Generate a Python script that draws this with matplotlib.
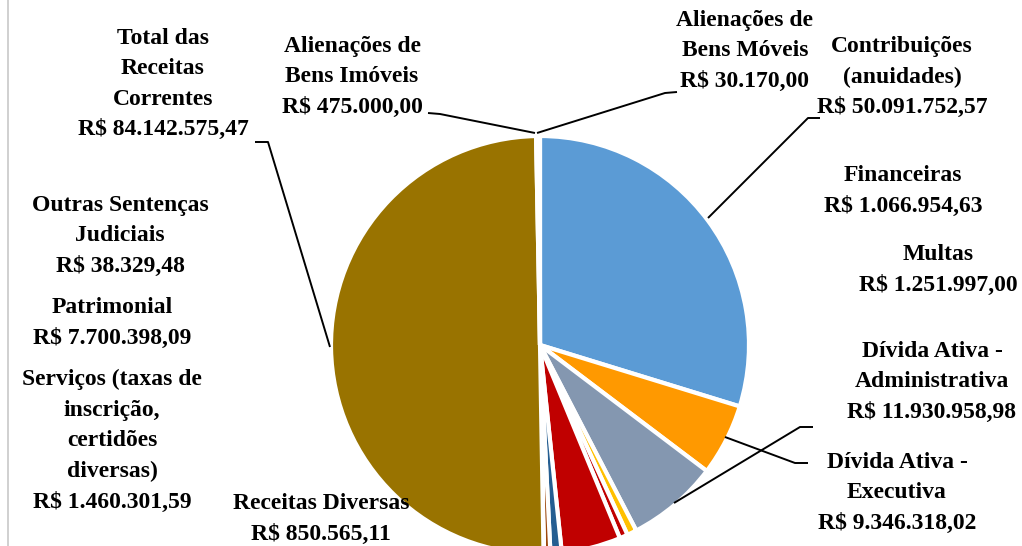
import matplotlib
matplotlib.use("Agg")
import matplotlib.pyplot as plt

# slice data, clockwise from the top
categories = [
    "Contribuições\n(anuidades)",
    "Dívida Ativa -\nExecutiva",
    "Dívida Ativa -\nAdministrativa",
    "Multas",
    "Financeiras",
    "Patrimonial",
    "Serviços (taxas de\ninscrição,\ncertidões\ndiversas)",
    "Receitas Diversas",
    "Outras Sentenças\nJudiciais",
    "Total das\nReceitas\nCorrentes",
    "Alienações de\nBens Imóveis",
    "Alienações de\nBens Móveis",
]
values = [50091752.57, 9346318.02, 11930958.98, 1251997.00, 1066954.63,
          7700398.09, 1460301.59, 850565.11, 38329.48, 84142575.47,
          475000.00, 30170.00]
value_labels = ["R$ 50.091.752,57", "R$ 9.346.318,02", "R$ 11.930.958,98",
                "R$ 1.251.997,00", "R$ 1.066.954,63", "R$ 7.700.398,09",
                "R$ 1.460.301,59", "R$ 850.565,11", "R$ 38.329,48",
                "R$ 84.142.575,47", "R$ 475.000,00", "R$ 30.170,00"]
colors = ["#5B9BD5", "#FF9900", "#8497B0", "#FFC000", "#C00000", "#C00000",
          "#255E91", "#9E480E", "#70AD47", "#997300", "#ffffff", "#ffffff"]

# label placement in pixels (x, y of block centre) and leader lines
label_pos = [(902, 77), (897, 493), (932, 382), (938, 270), (903, 191),
             (112, 323), (112, 441), (321, 519), (120, 236), (163, 84),
             (352, 77), (745, 51)]
leaders = {
    0: [(820, 118), (808, 118), (708, 218)],
    1: [(808, 463), (795, 463), (725, 437)],
    2: [(813, 427), (800, 427), (674, 503)],
    9: [(255, 142), (268, 142), (330, 347)],
    10: [(428, 113), (440, 114), (535, 133)],
    11: [(677, 92), (665, 93), (537, 133)],
}

W, H = 1022, 546
fig = plt.figure(figsize=(W / 100, H / 100), dpi=100)
ax = fig.add_axes([0, 0, 1, 1])

def py(y):
    return H - y

ax.pie(values, colors=colors, startangle=90, counterclock=False,
       center=(540, py(345)), radius=209,
       wedgeprops=dict(edgecolor="white", linewidth=3.0))

font = dict(family=["Liberation Serif", "DejaVu Serif"], fontweight="bold",
            fontsize=17, color="black")
for i, (x, y) in enumerate(label_pos):
    ax.text(x, py(y), categories[i] + "\n" + value_labels[i], ha="center",
            va="center", linespacing=1.6, **font)

for pts in leaders.values():
    ax.plot([p[0] for p in pts], [py(p[1]) for p in pts], color="black",
            lw=1.4, solid_capstyle="butt")

# chart area border at left
ax.plot([8, 8], [0, H], color="#C8C8C8", lw=1.2)

ax.set_xlim(0, W)
ax.set_ylim(0, H)
ax.set_aspect("equal")
ax.axis("off")

fig.savefig("out.png", dpi=100)
